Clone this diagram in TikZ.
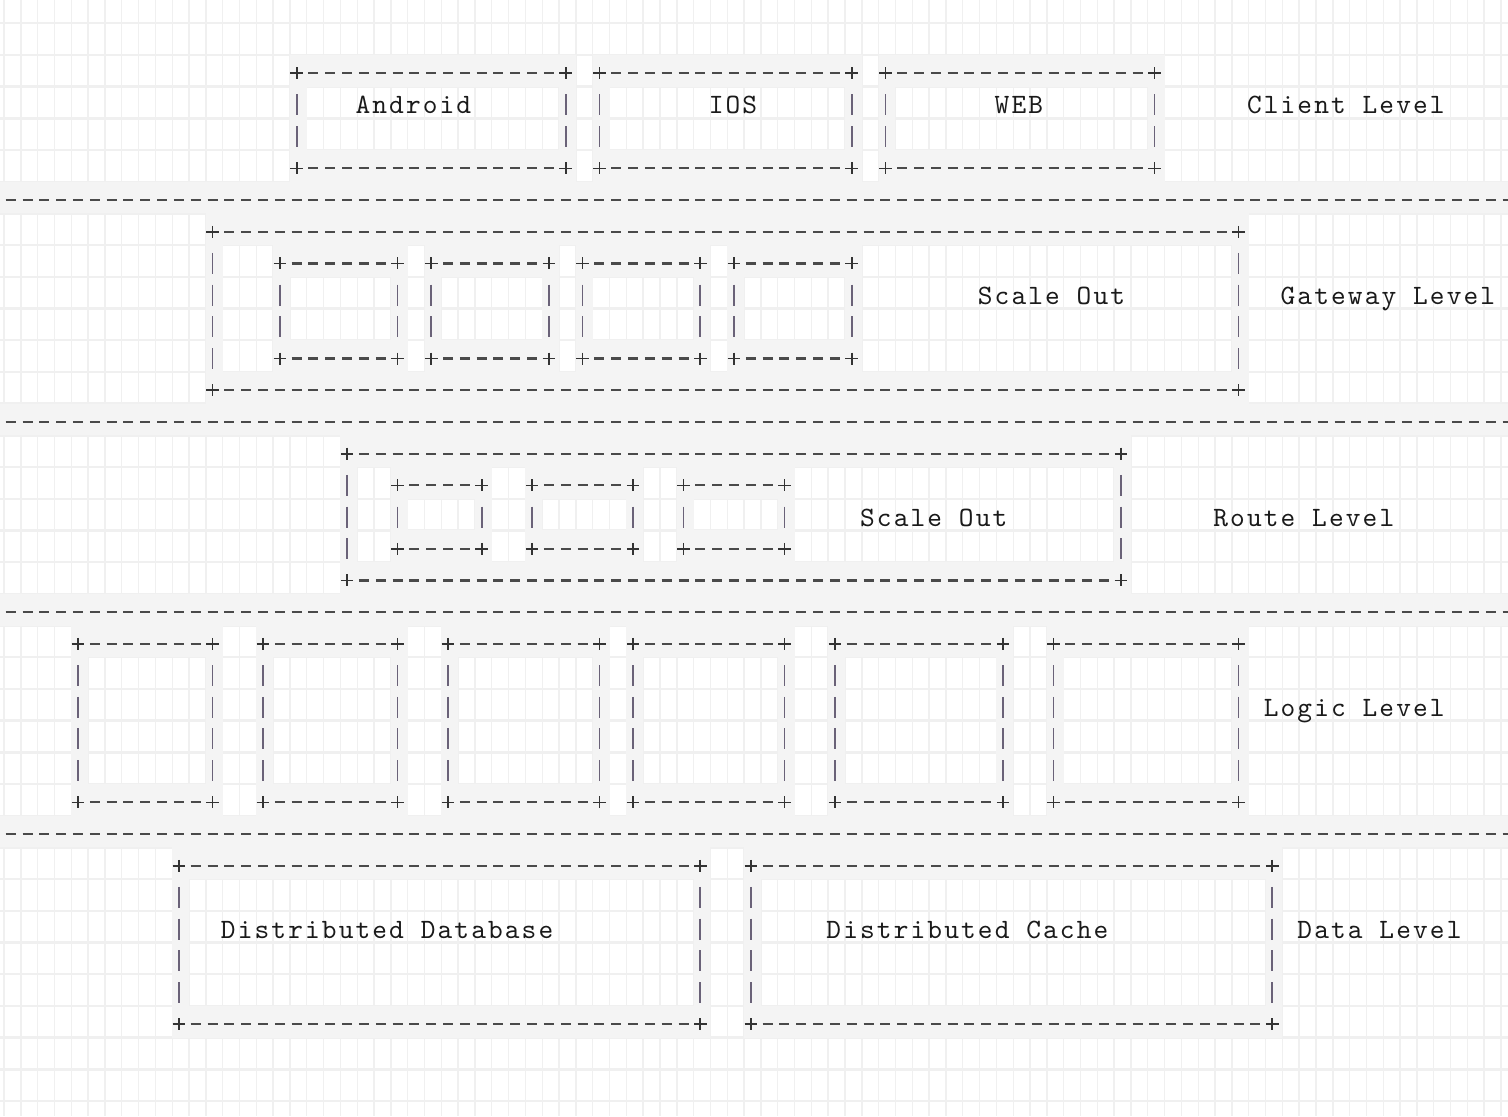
\documentclass[tikz,border=0pt]{standalone}
\usepackage{fontspec}
\newfontfamily\asciifont{lmmono10-regular}[Extension=.otf,LetterSpace=7.6]
\definecolor{basec}{HTML}{F0F0F0}
\definecolor{hlc}{HTML}{F4F4F4}
\definecolor{dashc}{HTML}{4A4A4A}
\definecolor{plusc}{HTML}{333333}
\definecolor{barc}{HTML}{6A6278}
\definecolor{textc}{HTML}{1A1A1A}
\def\dx{16.82}
\def\dy{31.7}
\def\xo{4}
\def\yo{-8.5}
\newcommand\dashat[2]{\draw[dsh] ({\xo+(#1+0.5)*\dx-1.7-5},{\yo+(#2+0.5)*\dy+2.5}) -- ++(10,0);}
\newcommand\barat[2]{\draw[vbar] ({\xo+(#1+0.5)*\dx-1.7},{\yo+(#2+0.5)*\dy+2.5-10.5}) -- ++(0,21);}
\newcommand\plusat[2]{\draw[pls] ({\xo+(#1+0.5)*\dx-1.7-6.3},{\yo+(#2+0.5)*\dy+2.5}) -- ++(12.6,0)
  ({\xo+(#1+0.5)*\dx-1.7},{\yo+(#2+0.5)*\dy+2.5-6}) -- ++(0,12);}
\newcommand\abox[5]{%
  \pgfmathtruncatemacro\bca{#2+1}%
  \pgfmathtruncatemacro\bcb{#4-1}%
  \pgfmathtruncatemacro\bra{#3+1}%
  \pgfmathtruncatemacro\brb{#5-1}%
  \fill[hlc] ({\xo+#2*\dx},{\yo+#3*\dy}) rectangle ({\xo+(#4+1)*\dx},{\yo+(#3+1)*\dy});
  \fill[hlc] ({\xo+#2*\dx},{\yo+#5*\dy}) rectangle ({\xo+(#4+1)*\dx},{\yo+(#5+1)*\dy});
  \fill[hlc] ({\xo+#2*\dx},{\yo+#3*\dy}) rectangle ({\xo+(#2+1)*\dx},{\yo+(#5+1)*\dy});
  \fill[hlc] ({\xo+#4*\dx},{\yo+#3*\dy}) rectangle ({\xo+(#4+1)*\dx},{\yo+(#5+1)*\dy});
  \foreach \q in {\bca,...,\bcb}{\dashat{\q}{#3}\dashat{\q}{#5}}
  \foreach \q in {\bra,...,\brb}{\barat{#2}{\q}\barat{#4}{\q}}
  \plusat{#2}{#3}\plusat{#4}{#3}\plusat{#2}{#5}\plusat{#4}{#5}
  \coordinate (#1) at ({\xo+(#2+#4+1)*\dx/2},{\yo+(#3+#5+1)*\dy/2});
}
\newcommand\sepln[2]{%
  \fill[hlc] ({\xo-1*\dx},{\yo+#2*\dy}) rectangle ({\xo+90*\dx},{\yo+(#2+1)*\dy});
  \foreach \q in {-1,...,89}{\dashat{\q}{#2}}
  \coordinate (#1) at ({\xo+45*\dx},{\yo+(#2+0.5)*\dy});
}
\newcommand\lblat[4]{\node[lbl] (#1) at ({\xo+#2*\dx-1.7},{\yo+(#3+0.5)*\dy+11.5}) {#4};}
\begin{document}
\begin{tikzpicture}[x=0.5pt,y=-0.5pt,
  dsh/.style={draw=dashc,line width=1.1pt},
  vbar/.style={draw=barc,line width=0.85pt},
  pls/.style={draw=plusc,line width=0.85pt},
  lbl/.style={anchor=base west,inner sep=0pt,outer sep=0pt,text=textc,
    font=\asciifont\fontsize{14pt}{16pt}\selectfont}]
\useasboundingbox (0,0) rectangle (1508,1116);
\fill[basec] (0,0) rectangle (1508,1116);
\foreach \rr in {0,...,35}{\foreach \q in {-1,...,89}{%
  \fill[white] ({\xo+\q*\dx+0.7},{\yo+\rr*\dy+1.2}) rectangle ({\xo+(\q+1)*\dx-0.7},{\yo+(\rr+1)*\dy-1.2});}}
% Client level
\abox{android}{17}{2}{33}{5}
\abox{ios}{35}{2}{50}{5}
\abox{web}{52}{2}{68}{5}
\lblat{tandroid}{21}{3}{Android}
\lblat{tios}{42}{3}{IOS}
\lblat{tweb}{59}{3}{WEB}
\lblat{tclient}{74}{3}{Client Level}
\sepln{sepa}{6}
% Gateway level
\abox{gw}{12}{7}{73}{12}
\abox{gwa}{16}{8}{23}{11}
\abox{gwb}{25}{8}{32}{11}
\abox{gwc}{34}{8}{41}{11}
\abox{gwd}{43}{8}{50}{11}
\lblat{tgwscale}{58}{9}{Scale Out}
\lblat{tgateway}{76}{9}{Gateway Level}
\sepln{sepb}{13}
% Route level
\abox{rt}{20}{14}{66}{18}
\abox{rta}{23}{15}{28}{17}
\abox{rtb}{31}{15}{37}{17}
\abox{rtc}{40}{15}{46}{17}
\lblat{trtscale}{51}{16}{Scale Out}
\lblat{troute}{72}{16}{Route Level}
\sepln{sepc}{19}
% Logic level
\abox{lga}{4}{20}{12}{25}
\abox{lgb}{15}{20}{23}{25}
\abox{lgc}{26}{20}{35}{25}
\abox{lgd}{37}{20}{46}{25}
\abox{lge}{49}{20}{59}{25}
\abox{lgf}{62}{20}{73}{25}
\lblat{tlogic}{75}{22}{Logic Level}
\sepln{sepd}{26}
% Data level
\abox{dba}{10}{27}{41}{32}
\abox{dbb}{44}{27}{75}{32}
\lblat{tdb}{13}{29}{Distributed Database}
\lblat{tcache}{49}{29}{Distributed Cache}
\lblat{tdata}{77}{29}{Data Level}
\end{tikzpicture}
\end{document}
